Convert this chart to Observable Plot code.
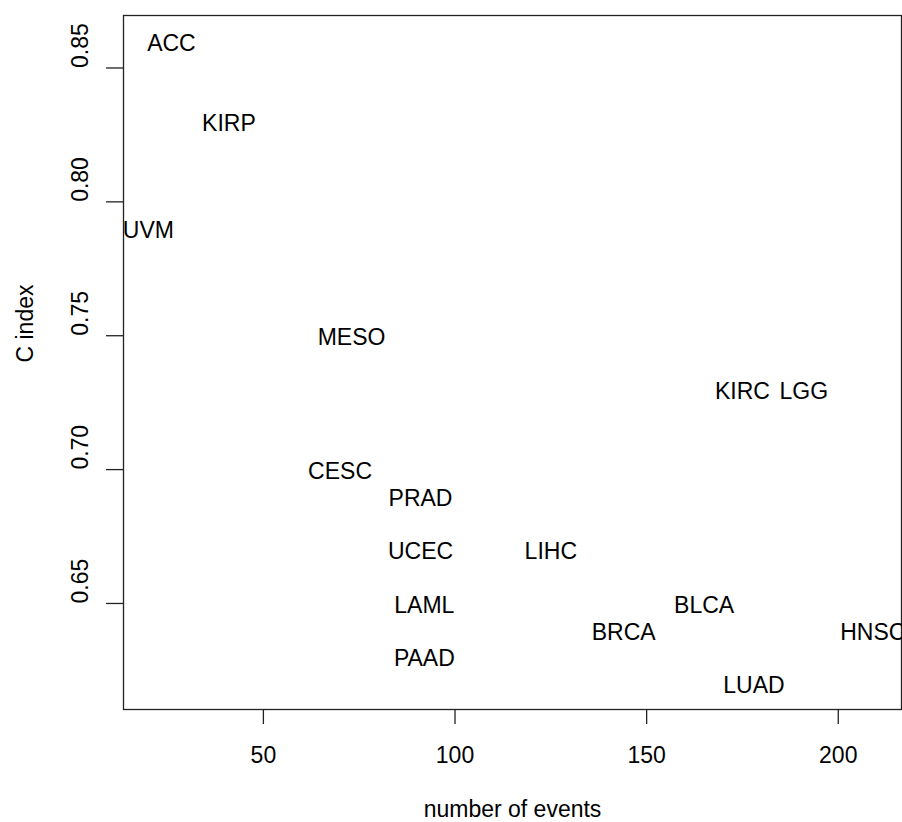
<!DOCTYPE html>
<html>
<head>
<meta charset="utf-8">
<script src="https://cdn.jsdelivr.net/npm/d3@7"></script>
<script src="https://cdn.jsdelivr.net/npm/@observablehq/plot@0.6"></script>
<style>
  html, body { margin: 0; padding: 0; background: #fff; }
  #chart svg { display: block; }
</style>
</head>
<body>
<div id="chart"></div>
<script>
// Cancer types with their number of events and concordance index
const cancers = ["ACC", "KIRP", "UVM", "MESO", "KIRC", "LGG", "CESC", "PRAD",
                 "UCEC", "LIHC", "LAML", "BLCA", "BRCA", "HNSC", "PAAD", "LUAD"];
const events  = [26, 41, 20, 73, 175, 191, 70, 91,
                 91, 125, 92, 165, 144, 209, 92, 178];
const cIndex  = [0.86, 0.83, 0.79, 0.75, 0.73, 0.73, 0.70, 0.69,
                 0.67, 0.67, 0.65, 0.65, 0.64, 0.64, 0.63, 0.62];

// Axis limits and tick positions
const xLimits = [13.5, 216.5];
const yLimits = [0.6104, 0.8696];
const xTicks  = [50, 100, 150, 200];
const yTicks  = [0.65, 0.70, 0.75, 0.80, 0.85];

const rows = cancers.map((name, i) => ({name, events: events[i], c: cIndex[i]}));

const font = "'Liberation Sans', Arial, Helvetica, sans-serif";
const fs = 23;

const chart = Plot.plot({
  width: 902,
  height: 822,
  marginLeft: 123,
  marginRight: 1,
  marginTop: 15,
  marginBottom: 113,
  style: {fontFamily: font, fontSize: fs + "px", background: "#fff", color: "#000"},
  x: {domain: xLimits},
  y: {domain: yLimits},
  marks: [
    Plot.frame({stroke: "#222", strokeWidth: 1.3}),
    Plot.axisX({ticks: xTicks, tickSize: 15, tickPadding: 22, fontSize: fs,
                label: null, tickFormat: d => String(d), stroke: "#222", strokeWidth: 1.3}),
    Plot.axisY({ticks: yTicks, tickSize: 17, label: null, tickFormat: () => "",
                stroke: "#222", strokeWidth: 1.3}),
    // rotated y tick labels
    Plot.text(yTicks, {y: d => d, text: d => d.toFixed(2), frameAnchor: "left",
                       dx: -36, rotate: -90, lineAnchor: "bottom", fontSize: fs, fill: "#000"}),
    // axis titles
    Plot.text(["C index"], {frameAnchor: "left", dx: -98, rotate: -90,
                            fontSize: fs, fill: "#000"}),
    Plot.text(["number of events"], {frameAnchor: "bottom", dy: 107,
                                     fontSize: fs, fill: "#000"}),
    // labelled points
    Plot.text(rows, {x: "events", y: "c", text: "name", dy: 2, fontSize: fs, fill: "#000"})
  ]
});

document.getElementById("chart").appendChild(chart);
</script>
</body>
</html>
